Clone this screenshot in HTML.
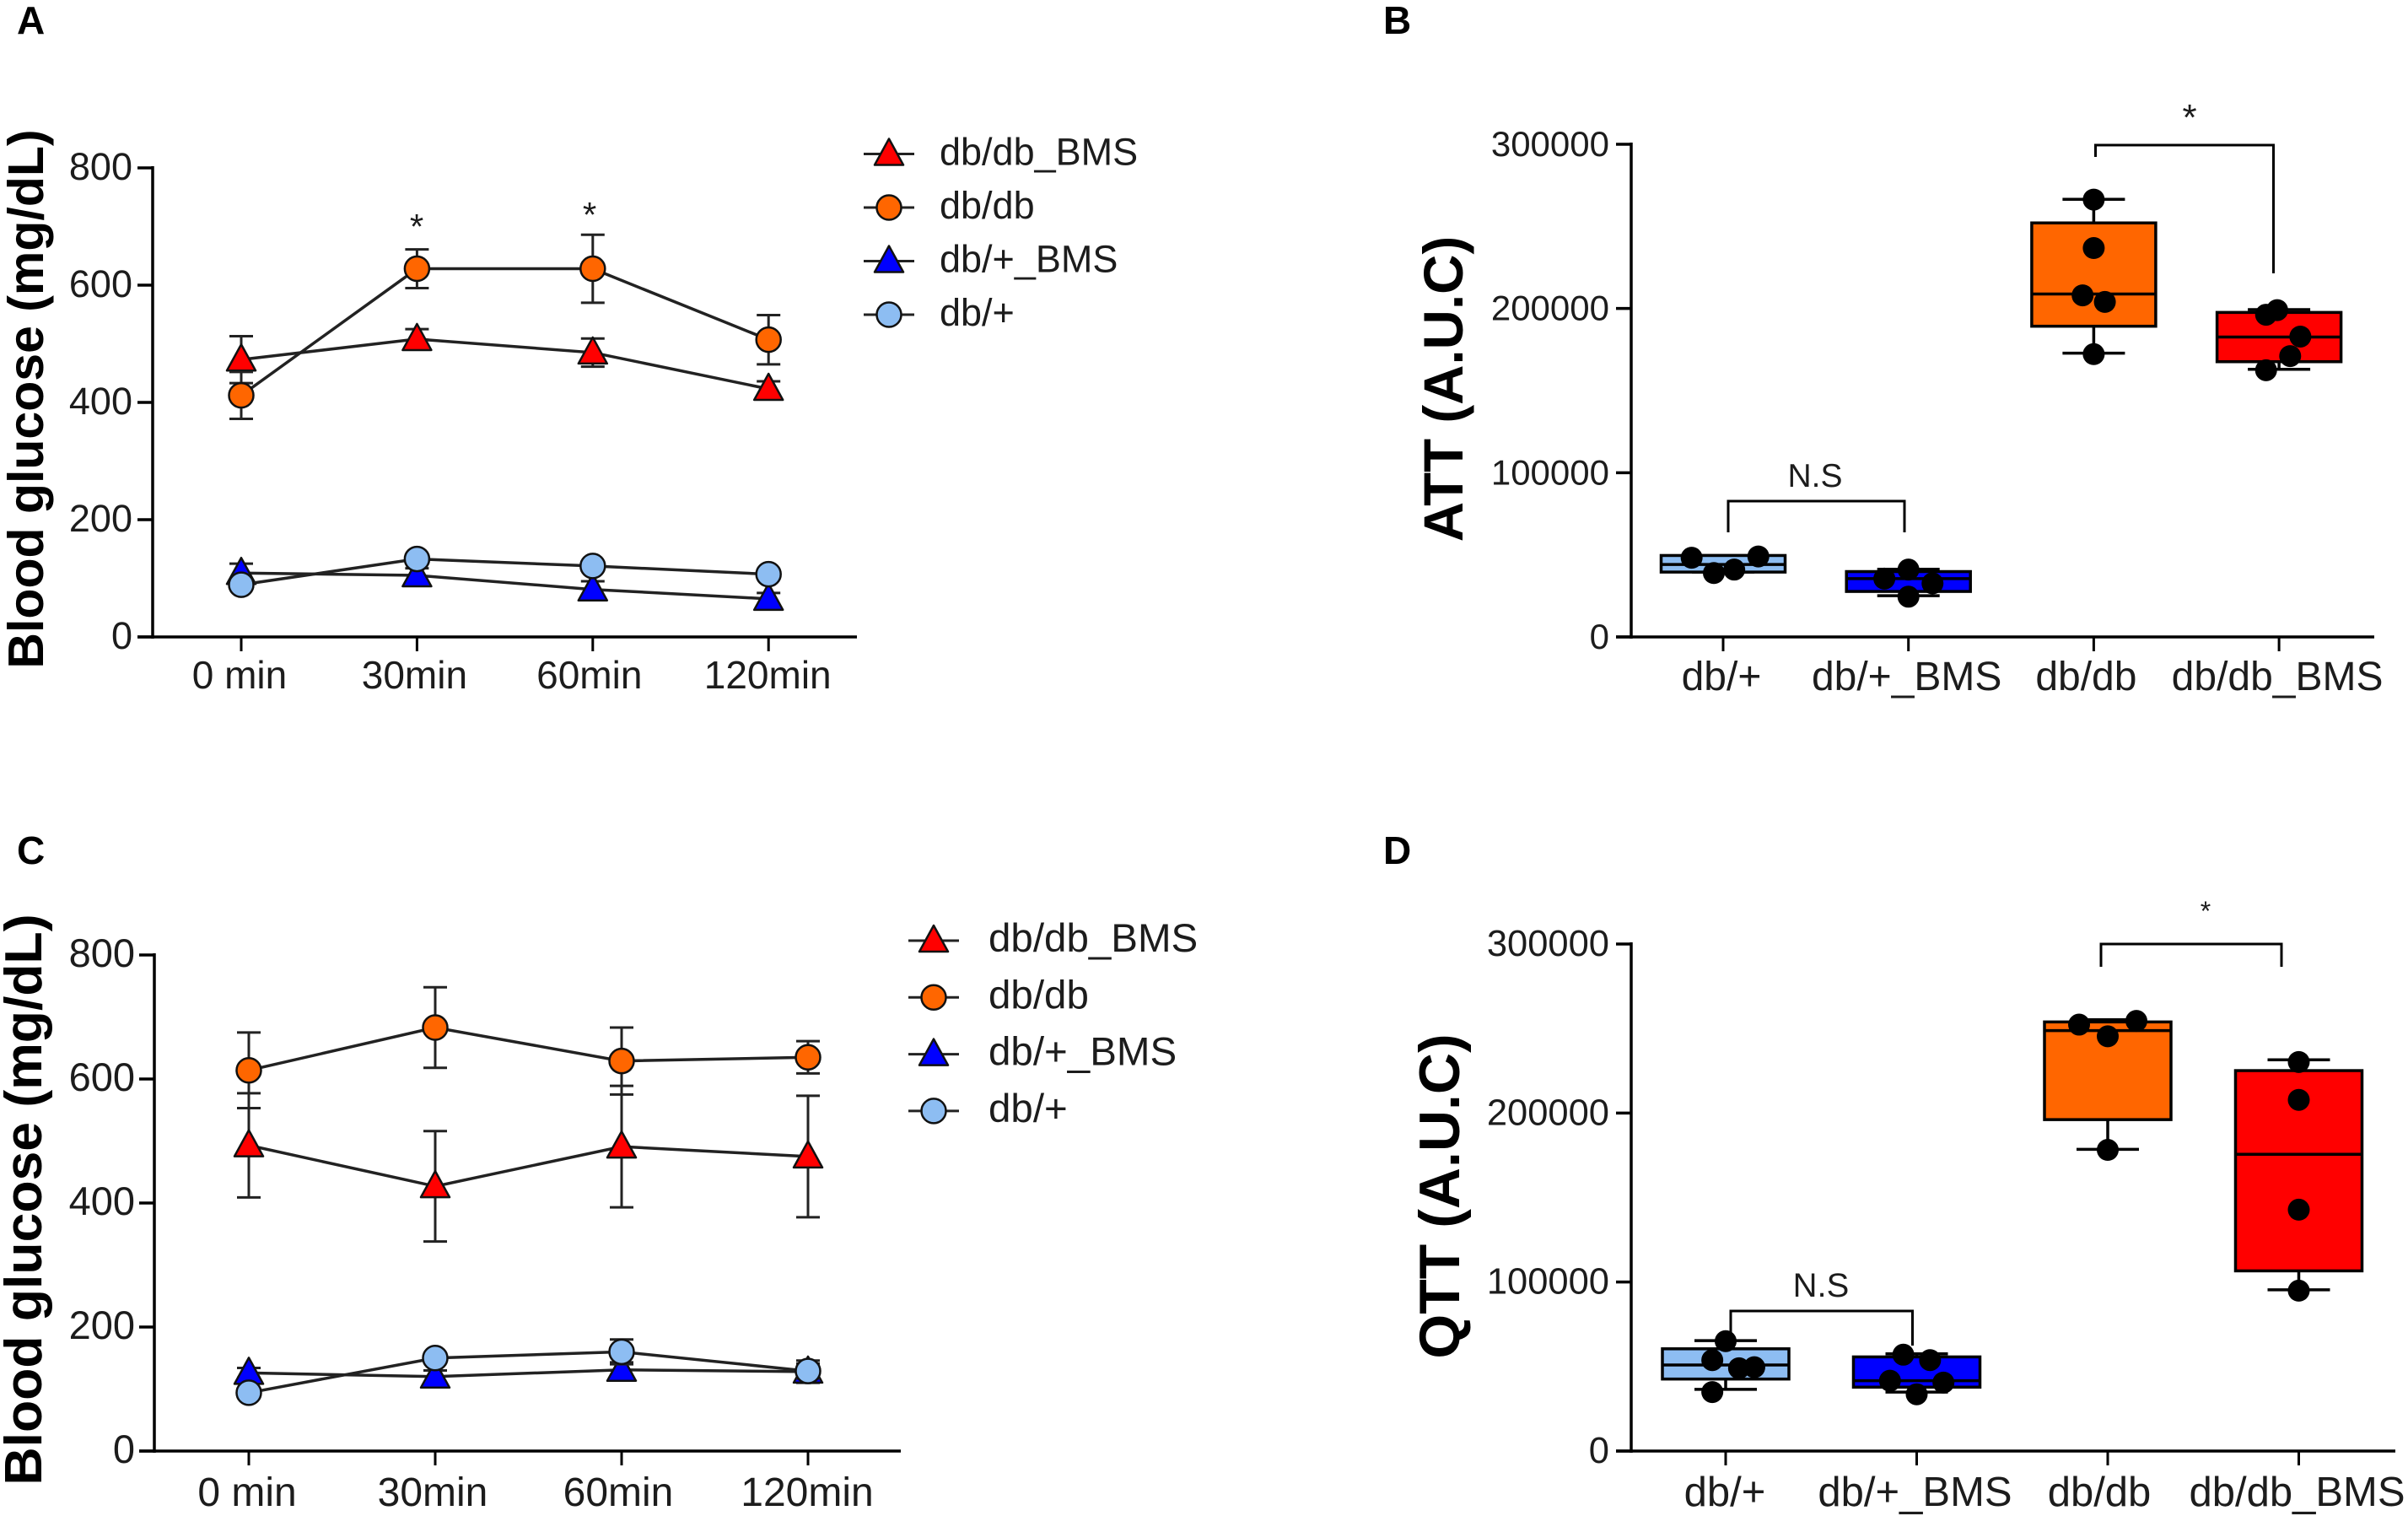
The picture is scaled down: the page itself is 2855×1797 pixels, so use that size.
<!DOCTYPE html>
<html lang="en">
<head>
<meta charset="utf-8">
<title>Blood glucose and AUC panels</title>
<style>
html,body{margin:0;padding:0;background:#fff;}
svg{display:block;}
text{font-family:"Liberation Sans",sans-serif;fill:#1c1c1c;}
.bold{font-weight:bold;fill:#000;}
</style>
</head>
<body>
<svg id="figure" xmlns="http://www.w3.org/2000/svg" width="2855" height="1797" viewBox="0 0 2855 1797">
  <rect x="0" y="0" width="2855" height="1797" fill="#fff"/>

  <text class="bold" x="20" y="40" font-size="46">A</text>
  <text class="bold" x="1640" y="40" font-size="46">B</text>
  <text class="bold" x="20" y="1024" font-size="46">C</text>
  <text class="bold" x="1640" y="1024" font-size="46">D</text>

  <text class="bold" transform="translate(51,473) rotate(-90)" text-anchor="middle" font-size="59">Blood glucose (mg/dL)</text>
  <text class="bold" transform="translate(1734,461) rotate(-90)" text-anchor="middle" font-size="65.5">ATT (A.U.C)</text>
  <text class="bold" transform="translate(49,1422) rotate(-90)" text-anchor="middle" font-size="62.5">Blood glucose (mg/dL)</text>
  <text class="bold" transform="translate(1730,1418) rotate(-90)" text-anchor="middle" font-size="68">QTT (A.U.C)</text>

  <text x="494" y="283" text-anchor="middle" font-size="42">*</text>
  <text x="699" y="269" text-anchor="middle" font-size="42">*</text>

  <path d="M2484.5 186V172H2695.5V324" fill="none" stroke="#000" stroke-width="3"/>
  <text x="2596" y="154" text-anchor="middle" font-size="44">*</text>
  <path d="M2049 631V594H2258V631" fill="none" stroke="#000" stroke-width="3"/>
  <text x="2152" y="577" text-anchor="middle" font-size="39">N.S</text>

  <path d="M2491 1146V1119H2705V1146" fill="none" stroke="#000" stroke-width="3"/>
  <text x="2615" y="1091" text-anchor="middle" font-size="32">*</text>
  <path d="M2052 1595V1554H2267.5V1595" fill="none" stroke="#000" stroke-width="3"/>
  <text x="2159" y="1537" text-anchor="middle" font-size="40">N.S</text>
</svg>

<script>
// ---------- Shared labels ----------
const timeLabels = ['0 min', '30min', '60min', '120min'];
const glucoseTicks = [0, 200, 400, 600, 800];
const aucTicks = [0, 100000, 200000, 300000];
const groupLabels = ['db/+', 'db/+_BMS', 'db/db', 'db/db_BMS'];
const legendNames = ['db/db_BMS', 'db/db', 'db/+_BMS', 'db/+'];

// ---------- Panel A values ----------
const aDbDbBmsMean = [473, 508, 485, 423];
const aDbDbBmsErr = [40, 17, 24, 13];
const aDbDbMean = [412, 628, 628, 507];
const aDbDbErr = [40, 33, 58, 42];
const aDbPlusBmsMean = [109, 105, 81, 65];
const aDbPlusBmsErr = [16, 12, 14, 10];
const aDbPlusMean = [89, 133, 121, 107];
const aDbPlusErr = [8, 8, 8, 8];

// ---------- Panel C values ----------
const cDbDbBmsMean = [493, 427, 491, 475];
const cDbDbBmsErr = [84, 89, 98, 98];
const cDbDbMean = [614, 683, 629, 635];
const cDbDbErr = [61, 65, 54, 26];
const cDbPlusBmsMean = [126, 120, 131, 128];
const cDbPlusBmsErr = [8, 10, 12, 18];
const cDbPlusMean = [94, 150, 160, 129];
const cDbPlusErr = [6, 8, 20, 12];

// ---------- Panel B values (db/+, db/+_BMS, db/db, db/db_BMS) ----------
const bQ1 = [39500, 27700, 189200, 167600];
const bMedian = [44100, 35500, 208800, 182600];
const bQ3 = [49600, 39800, 252100, 197600];
const bWhiskerLow = [39500, 25100, 172800, 163000];
const bWhiskerHigh = [49600, 41250, 266500, 199300];
const bPoints = [
  [48200, 38900, 41000, 49000],
  [35500, 41000, 24500, 32600],
  [208000, 266300, 236800, 172200, 204000],
  [162400, 196200, 199000, 171000, 182900]
];

// ---------- Panel D values ----------
const dQ1 = [42600, 37800, 196100, 106600];
const dMedian = [50900, 41600, 248800, 175600];
const dQ3 = [60500, 55700, 253900, 225100];
const dWhiskerLow = [36500, 34900, 178500, 95400];
const dWhiskerHigh = [65300, 57500, 255200, 231500];
const dPoints = [
  [53800, 34900, 65000, 49000, 49600],
  [41600, 57000, 33600, 53800, 40500],
  [252300, 245400, 178200, 254500],
  [230200, 207800, 142800, 94900]
];

// ---------- Series styling and horizontal swarm spread (layout only) ----------
const seriesStyles = [
  {marker: 'triangle', fill: '#ff0000'},
  {marker: 'circle', fill: '#ff6600'},
  {marker: 'triangle', fill: '#0000ff'},
  {marker: 'circle', fill: '#8dbdf2'}
];
const boxFills = ['#8dbdf2', '#0000ff', '#ff6600', '#ff0000'];
const swarmB = [
  [-0.17, -0.05, 0.06, 0.19],
  [-0.13, 0, 0, 0.13],
  [-0.06, 0, 0, 0, 0.06],
  [-0.07, -0.07, -0.01, 0.06, 0.115]
];
const swarmD = [
  [-0.07, -0.07, 0, 0.07, 0.15],
  [-0.14, -0.07, 0, 0.07, 0.14],
  [-0.15, 0, 0, 0.15],
  [0, 0, 0, 0]
];

const root = document.getElementById('figure');
const NS = 'http://www.w3.org/2000/svg';

function mk(tag, attrs, parent) {
  const node = document.createElementNS(NS, tag);
  for (const key in attrs) node.setAttribute(key, attrs[key]);
  parent.appendChild(node);
  return node;
}

function scales(cfg) {
  return {
    y: v => cfg.yBottom - (v / cfg.yMax) * (cfg.yBottom - cfg.yTop),
    x: i => cfg.xStart + i * cfg.xStep
  };
}

function drawAxes(cfg, ticks, categories) {
  const s = scales(cfg);
  const g = mk('g', {}, root);
  
  

  const yAxis = mk('line', {x1: cfg.xAxis, x2: cfg.xAxis, y1: s.y(cfg.yMax) - 2, y2: cfg.yBottom + 2, stroke: '#000', 'stroke-width': 3.5}, g);
  
  

  const xAxis = mk('line', {x1: cfg.xAxis - 18, x2: cfg.xEnd, y1: cfg.yBottom, y2: cfg.yBottom, stroke: '#000', 'stroke-width': 3.5}, g);
  
  

  ticks.forEach(v => {
    const py = s.y(v);
    const tick = mk('line', {x1: cfg.xAxis - 18, x2: cfg.xAxis, y1: py, y2: py, stroke: '#000', 'stroke-width': 3.5}, g);
    
    
    const label = mk('text', {x: cfg.yLabelX, y: py + 14, 'text-anchor': 'end', 'font-size': cfg.yFont}, g);
    
    
    label.textContent = String(v);
  });

  categories.forEach((c, i) => {
    const px = s.x(i);
    const tick = mk('line', {x1: px, x2: px, y1: cfg.yBottom, y2: cfg.yBottom + 17, stroke: '#000', 'stroke-width': 3}, g);
    
    
    const label = mk('text', {x: px + cfg.labelDx[i], y: cfg.xLabelY, 'text-anchor': 'middle', 'font-size': cfg.xFont}, g);
    
    
    label.textContent = c;
  });
}

function drawMarker(style, cx, cy, parent) {
  if (style.marker === 'triangle') {
    const pts = [[cx, cy - 18], [cx + 17, cy + 13], [cx - 17, cy + 13]].map(p => p.join(',')).join(' ');
    return mk('polygon', {points: pts, fill: style.fill, stroke: '#111', 'stroke-width': 2.5, 'stroke-linejoin': 'round'}, parent);
  }
  return mk('circle', {cx: cx, cy: cy, r: 14.5, fill: style.fill, stroke: '#111', 'stroke-width': 2.5}, parent);
}

function drawSeries(cfg, name, means, errs, style) {
  const s = scales(cfg);
  const g = mk('g', {}, root);
  
  

  means.forEach((m, i) => {
    const px = s.x(i);
    const top = s.y(m + errs[i]);
    const bot = s.y(m - errs[i]);
    const bar = mk('path', {d: 'M' + (px - 14) + ' ' + top + 'H' + (px + 14) + 'M' + px + ' ' + top + 'V' + bot + 'M' + (px - 14) + ' ' + bot + 'H' + (px + 14), fill: 'none', stroke: '#222', 'stroke-width': 3}, g);
    
    
  });

  const pts = means.map((m, i) => s.x(i) + ',' + s.y(m)).join(' ');
  const line = mk('polyline', {points: pts, fill: 'none', stroke: '#222', 'stroke-width': 3.5}, g);
  
  

  means.forEach((m, i) => {
    const mark = drawMarker(style, s.x(i), s.y(m), g);
    
    
  });
}

function drawLegend(cfg) {
  legendNames.forEach((n, i) => {
    const y = cfg.legendY + i * cfg.legendStep;
    const g = mk('g', {}, root);
    
    
    const line = mk('line', {x1: cfg.legendX, x2: cfg.legendX + 60, y1: y, y2: y, stroke: '#222', 'stroke-width': 3}, g);
    
    
    const mark = drawMarker(seriesStyles[i], cfg.legendX + 30, y, g);
    
    
    const label = mk('text', {x: cfg.legendTextX, y: y + cfg.legendDy, 'font-size': cfg.legendFont}, g);
    
    
    label.textContent = n;
  });
}

function drawBoxes(cfg, q1, med, q3, lo, hi, points, swarm) {
  const s = scales(cfg);
  q1.forEach((_, i) => {
    const px = s.x(i);
    const g = mk('g', {}, root);
    
    

    const whisker = mk('path', {d: 'M' + (px - 37) + ' ' + s.y(hi[i]) + 'H' + (px + 37) + 'M' + px + ' ' + s.y(hi[i]) + 'V' + s.y(lo[i]) + 'M' + (px - 37) + ' ' + s.y(lo[i]) + 'H' + (px + 37), fill: 'none', stroke: '#000', 'stroke-width': 3.5}, g);
    
    

    const rect = mk('rect', {x: px - cfg.boxHalf, y: s.y(q3[i]), width: cfg.boxHalf * 2, height: s.y(q1[i]) - s.y(q3[i]), fill: boxFills[i], stroke: '#000', 'stroke-width': 3.5}, g);
    
    

    const median = mk('line', {x1: px - cfg.boxHalf, x2: px + cfg.boxHalf, y1: s.y(med[i]), y2: s.y(med[i]), stroke: '#000', 'stroke-width': 3.5}, g);
    
    

    points[i].forEach((v, j) => {
      const dot = mk('circle', {cx: px + swarm[i][j] * cfg.xStep, cy: s.y(v), r: 13, fill: '#000'}, g);
      
      
    });
  });
}

const cfgA = {name: 'panel-a', yMax: 800, yTop: 199, yBottom: 755, xAxis: 181, xEnd: 1016, xStart: 286, xStep: 208.4, yLabelX: 157, yFont: 45, xFont: 46, xLabelY: 816, labelDx: [-2, -3, -4, -1], legendX: 1024, legendY: 182.5, legendStep: 63.5, legendTextX: 1114, legendDy: 13, legendFont: 45};
const cfgC = {name: 'panel-c', yMax: 800, yTop: 1132, yBottom: 1720, xAxis: 183, xEnd: 1068, xStart: 295, xStep: 221, yLabelX: 160, yFont: 47, xFont: 48, xLabelY: 1785, labelDx: [-2, -3, -4, -1], legendX: 1077, legendY: 1115, legendStep: 67.3, legendTextX: 1172, legendDy: 13, legendFont: 47.5};
const cfgB = {name: 'panel-b', yMax: 300000, yTop: 171, yBottom: 755, xAxis: 1934, xEnd: 2815, xStart: 2043, xStep: 219.7, yLabelX: 1908, yFont: 42, xFont: 48, xLabelY: 818, labelDx: [-2, -2, -9, -2], boxHalf: 73.5};
const cfgD = {name: 'panel-d', yMax: 300000, yTop: 1119, yBottom: 1720, xAxis: 1934, xEnd: 2840, xStart: 2046, xStep: 226.5, yLabelX: 1908, yFont: 43.5, xFont: 49, xLabelY: 1785, labelDx: [-1, -2, -10, -2], boxHalf: 75};

drawAxes(cfgA, glucoseTicks, timeLabels);
drawSeries(cfgA, 'db-db-bms', aDbDbBmsMean, aDbDbBmsErr, seriesStyles[0]);
drawSeries(cfgA, 'db-db', aDbDbMean, aDbDbErr, seriesStyles[1]);
drawSeries(cfgA, 'db-plus-bms', aDbPlusBmsMean, aDbPlusBmsErr, seriesStyles[2]);
drawSeries(cfgA, 'db-plus', aDbPlusMean, aDbPlusErr, seriesStyles[3]);
drawLegend(cfgA);

drawAxes(cfgC, glucoseTicks, timeLabels);
drawSeries(cfgC, 'db-db-bms', cDbDbBmsMean, cDbDbBmsErr, seriesStyles[0]);
drawSeries(cfgC, 'db-db', cDbDbMean, cDbDbErr, seriesStyles[1]);
drawSeries(cfgC, 'db-plus-bms', cDbPlusBmsMean, cDbPlusBmsErr, seriesStyles[2]);
drawSeries(cfgC, 'db-plus', cDbPlusMean, cDbPlusErr, seriesStyles[3]);
drawLegend(cfgC);

drawAxes(cfgB, aucTicks, groupLabels);
drawBoxes(cfgB, bQ1, bMedian, bQ3, bWhiskerLow, bWhiskerHigh, bPoints, swarmB);

drawAxes(cfgD, aucTicks, groupLabels);
drawBoxes(cfgD, dQ1, dMedian, dQ3, dWhiskerLow, dWhiskerHigh, dPoints, swarmD);
</script>
</body>
</html>
